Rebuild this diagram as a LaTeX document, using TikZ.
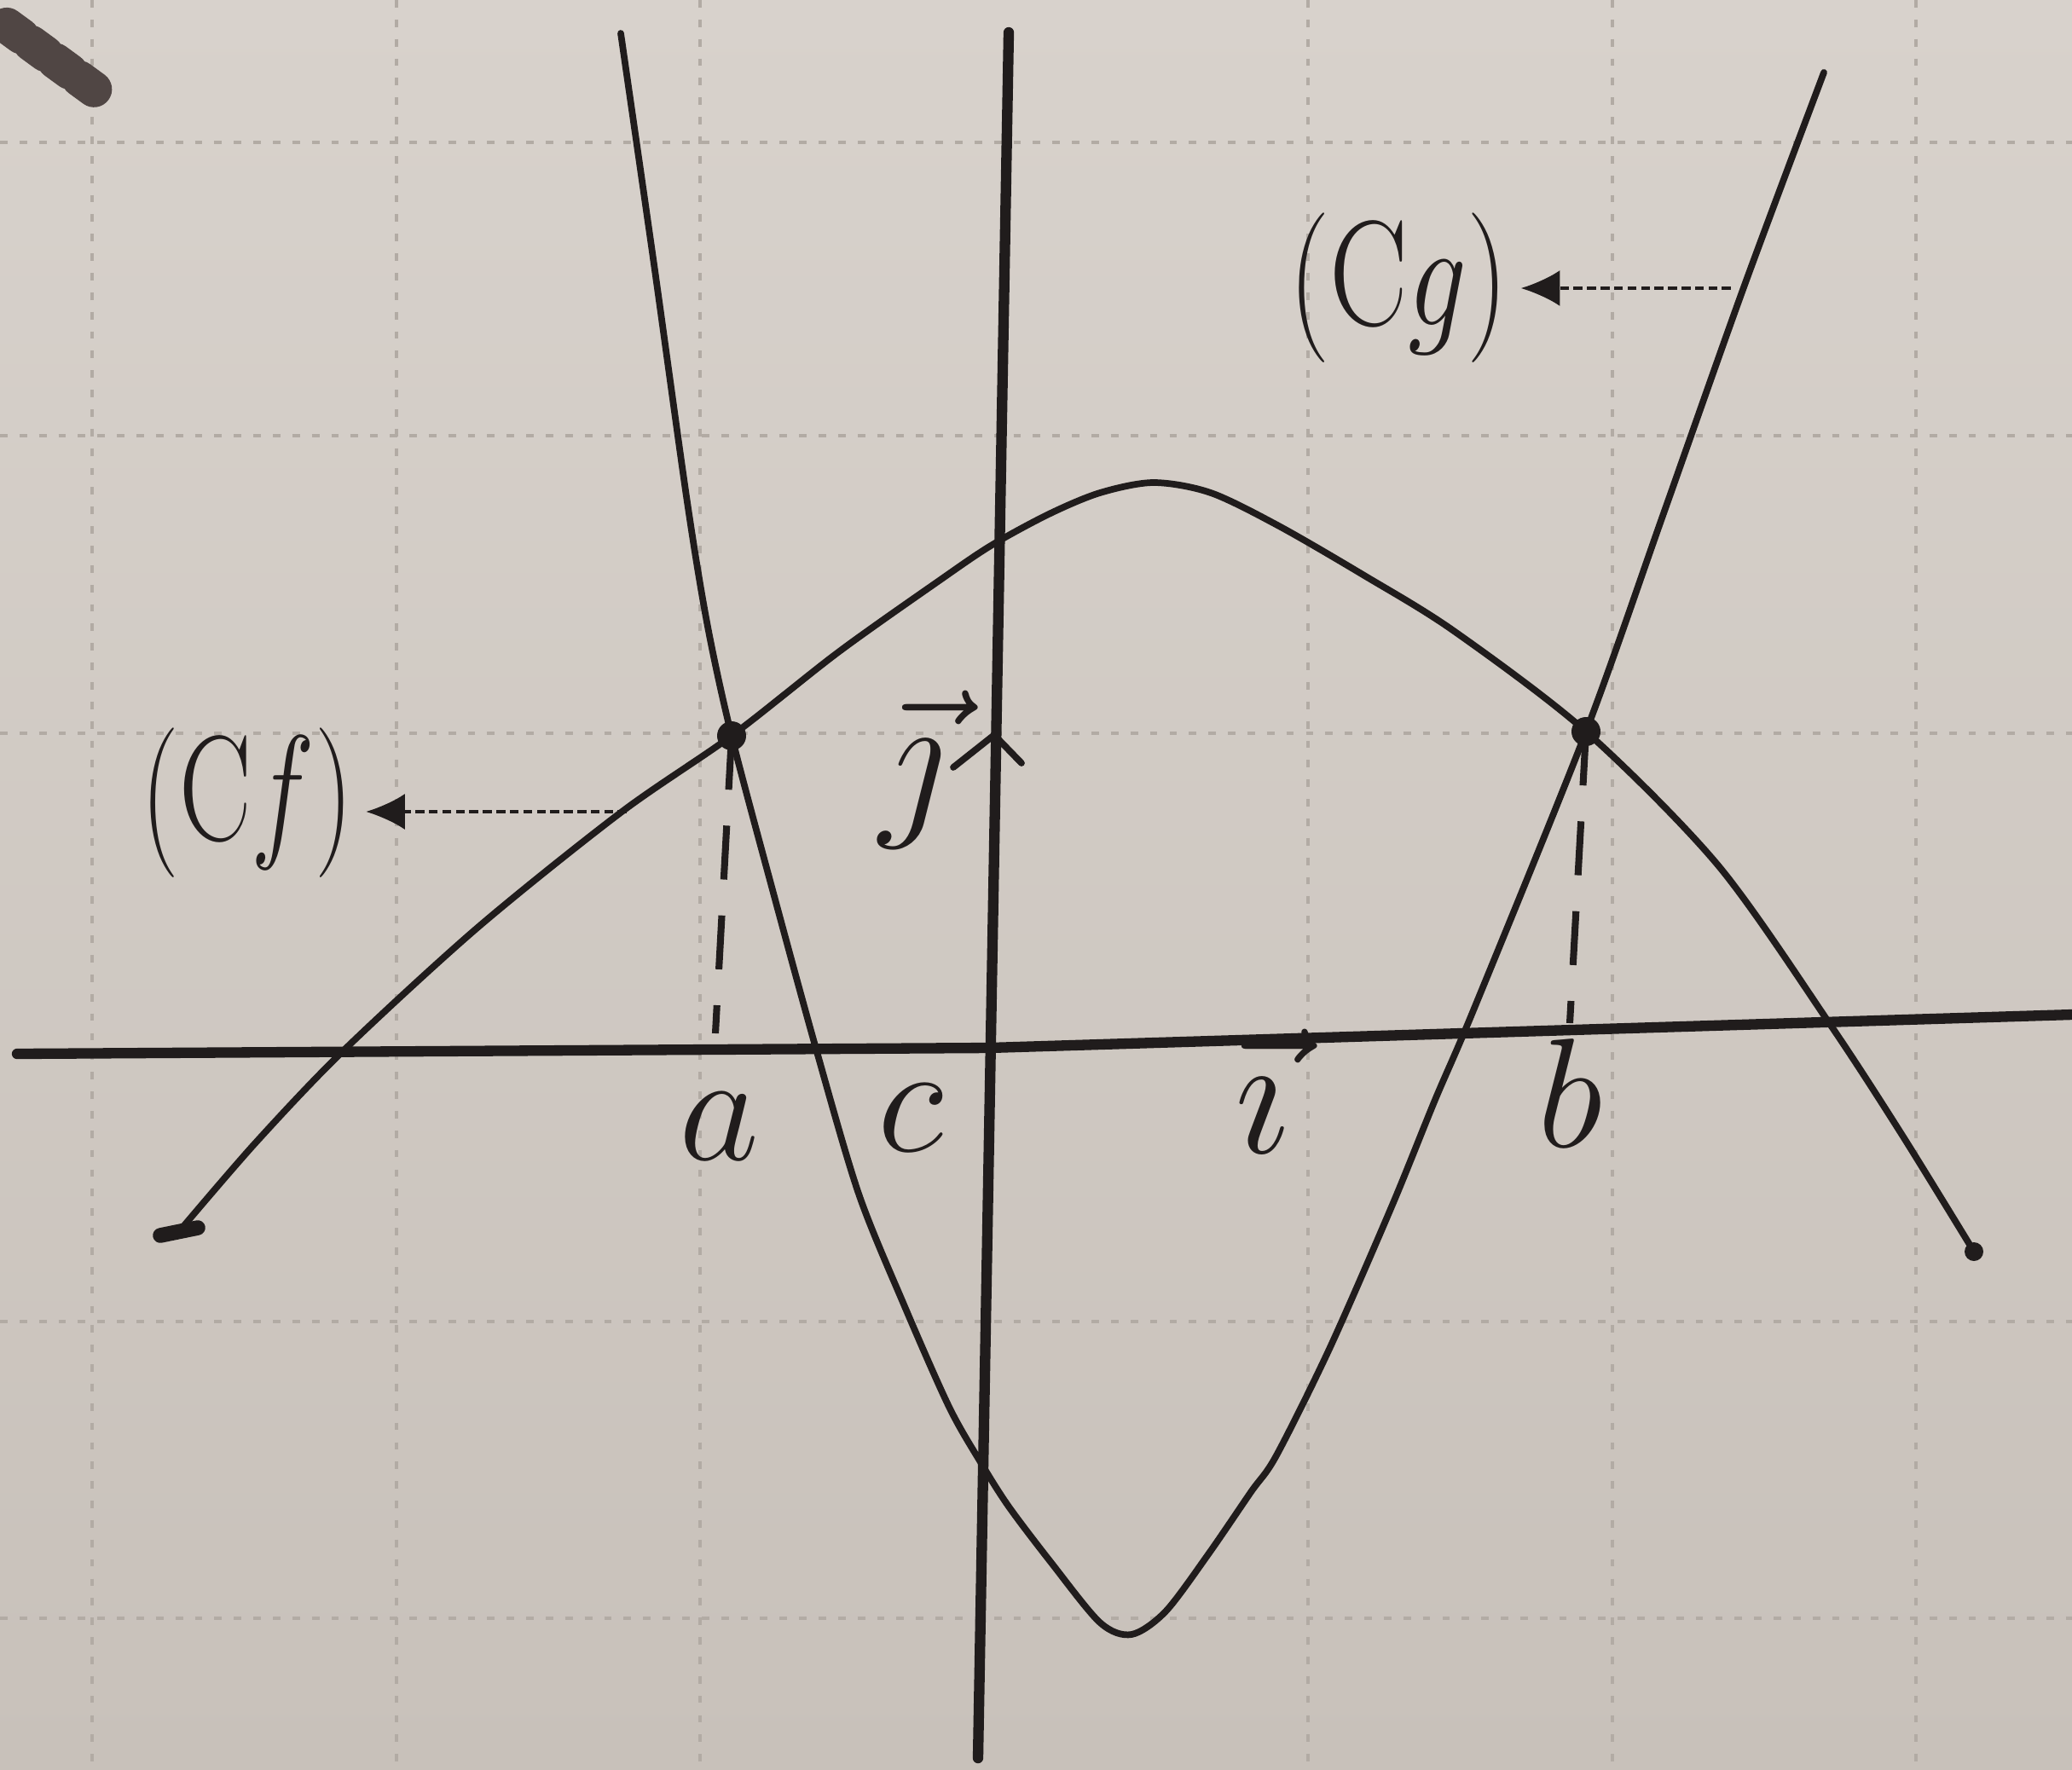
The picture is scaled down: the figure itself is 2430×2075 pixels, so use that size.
\RequirePackage{fix-cm}
\documentclass[tikz,border=0pt]{standalone}
\usetikzlibrary{arrows.meta}
\definecolor{paper}{RGB}{200,193,186}
\definecolor{paperTop}{RGB}{216,210,204}
\definecolor{ink}{RGB}{32,28,28}
\definecolor{gridc}{RGB}{178,171,164}
\definecolor{smudge}{RGB}{80,70,68}
\begin{document}
\begin{tikzpicture}[x=0.01cm,y=-0.01cm,
  axisline/.style={draw=ink, line width=3.5pt, line cap=round, line join=round},
  curveline/.style={draw=ink, line width=2.2pt, line join=round, line cap=round},
  dashv/.style={draw=ink, line width=2.3pt, dash pattern=on 18pt off 12pt},
  ptr/.style={draw=ink, line width=1.1pt, dash pattern=on 3pt off 1.5pt, -{Latex[length=13pt,width=12pt]}},
  lab/.style={text=ink, font=\fontsize{52}{60}\selectfont, inner sep=0pt},
  vlab/.style={text=ink, font=\fontsize{58}{66}\selectfont, inner sep=0pt},
  clab/.style={text=ink, font=\fontsize{50}{60}\selectfont, inner sep=4pt},
  gridl/.style={draw=gridc, line width=1pt, dash pattern=on 2.5pt off 4pt}]

% paper
\shade[top color=paperTop, bottom color=paper] (0,0) rectangle (2430,2075);
\useasboundingbox (0,0) rectangle (2430,2075);

% faint grid of the squared paper
\foreach \gx in {108,465,821,1534,1891,2247}
  \draw[gridl] (\gx,0) -- (\gx,2075);
\foreach \gy in {167,511,860,1550,1898}
  \draw[gridl] (0,\gy) -- (2430,\gy);

% smudge
\coordinate (sm1) at (8,30);
\coordinate (sm2) at (112,106);
\draw[smudge, line width=12pt, line cap=round, dash pattern=on 6pt off 4pt] (sm1) -- (sm2);

% axes
\coordinate (xl) at (20,1236);
\coordinate (xm) at (1160,1229);
\coordinate (xr) at (2430,1190);
\coordinate (yt) at (1183,38);
\coordinate (yb) at (1147,2062);
\draw[axisline] (xl) -- (xm) -- (xr);
\draw[axisline] (yt) -- (yb);

% key points
\coordinate (A) at (858,863);
\coordinate (B) at (1860,858);
\coordinate (aFoot) at (839,1212);
\coordinate (bFoot) at (1841,1200);

% curve Cf
\draw[curveline] plot[smooth, tension=0.5] coordinates {
 (212,1442) (300,1340) (403,1232) (560,1088) (728,953) (858,863)
 (983,765) (1100,682) (1162,640) (1230,603) (1290,578) (1353,566)
 (1420,578) (1500,617) (1600,675) (1705,740) (1860,858) (2015,1015)
 (2146,1201) (2230,1330) (2315,1468)};

% curve Cg
\draw[curveline] plot[smooth, tension=0.5] coordinates {
 (728,39) (767,310) (806,589) (830,735) (858,863) (905,1040)
 (957,1230) (1007,1400) (1060,1530) (1113,1650) (1150,1715)
 (1183,1767) (1233,1833) (1290,1903) (1327,1917) (1367,1890)
 (1417,1823) (1467,1750) (1497,1707) (1560,1580) (1633,1413)
 (1683,1290) (1730,1180) (1860,858) (1950,605) (2045,337) (2139,85)};

% end marks of Cf
\coordinate (cfL1) at (188,1449);
\coordinate (cfL2) at (232,1440);
\coordinate (cfR) at (2315,1468);
\draw[ink, line width=5pt, line cap=round] (cfL1) -- (cfL2);
\fill[ink] (cfR) circle (0.11cm);

% intersection points and dashed projections
\fill[ink] (A) circle (0.17cm);
\fill[ink] (B) circle (0.17cm);
\draw[dashv] (A) -- (aFoot);
\draw[dashv] (B) -- (bFoot);

% unit vector mark on y-axis
\coordinate (jtip) at (1166,862);
\coordinate (jw1) at (1118,900);
\coordinate (jw2) at (1198,895);
\draw[curveline] (jw1) -- (jtip) -- (jw2);

% axis labels
\node[lab, anchor=base] (alab) at (843,1360) {$a$};
\node[lab, anchor=base] (clab) at (1068,1350) {$c$};
\node[lab, anchor=base] (blab) at (1842,1345) {$b$};
\node[vlab, anchor=base] (ilab) at (1480,1352) {$\vec{\imath}$};
\node[vlab, anchor=base] (jlab) at (1070,955) {$\vec{\jmath}$};

% curve names with pointers
\node[clab] (cflab) at (290,942) {\scalebox{0.72}[1]{(C$f$)}};
\node[clab] (cglab) at (1640,338) {\scalebox{0.78}[1]{(C$g$)}};
\coordinate (cfs) at (735,952);
\coordinate (cgs) at (2030,338);
\draw[ptr] (cfs) -- (cfs -| cflab.east);
\draw[ptr] (cgs) -- (cgs -| cglab.east);
\end{tikzpicture}
\end{document}
